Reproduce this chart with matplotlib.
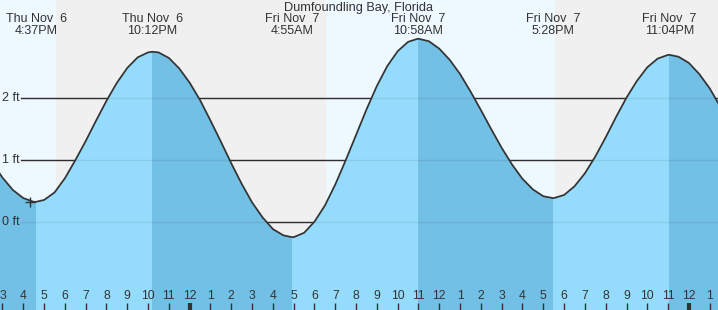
import numpy as np
import matplotlib
matplotlib.use("Agg")
import matplotlib.pyplot as plt
from matplotlib.patches import PathPatch

plt.rcParams['font.family'] = ['Liberation Sans', 'DejaVu Sans']

# ---------------- data ----------------
title = "Dumfoundling Bay, Florida"
# hours since Thu Nov 6 00:00, half-hour readings
hour_start, hour_step = 14.5, 0.5
heights = [0.97, 0.72, 0.52, 0.39, 0.33, 0.36, 0.48, 0.71, 1.00, 1.31,
           1.64, 1.96, 2.25, 2.49, 2.66, 2.74, 2.74, 2.65, 2.48, 2.25,
           1.97, 1.64, 1.30, 0.95, 0.62, 0.32, 0.08, -0.11, -0.21, -0.24,
           -0.17, 0.01, 0.27, 0.61, 1.00, 1.41, 1.82, 2.20, 2.52, 2.76,
           2.91, 2.96, 2.92, 2.80, 2.62, 2.39, 2.11, 1.81, 1.50, 1.20,
           0.93, 0.70, 0.53, 0.42, 0.39, 0.44, 0.58, 0.79, 1.06, 1.37,
           1.70, 2.01, 2.28, 2.50, 2.64, 2.70, 2.67, 2.57, 2.39, 2.16, 1.87]

extreme_hours = [16.617, 22.2, 28.917, 34.967, 41.467, 47.067]
extreme_heights = [0.33, 2.75, -0.24, 2.96, 0.39, 2.70]
extreme_kinds = ['low', 'high', 'low', 'high', 'low', 'high']
extreme_dates = ["Thu Nov  6", "Thu Nov  6", "Fri Nov  7", "Fri Nov  7", "Fri Nov  7", "Fri Nov  7"]
extreme_times = ["4:37PM", "10:12PM", "4:55AM", "10:58AM", "5:28PM", "11:04PM"]

night_spans = [(17.57, 30.55), (41.55, 60.0)]
grid_levels = [0, 1, 2]
grid_labels = ["0 ft", "1 ft", "2 ft"]
tick_hours = list(range(15, 50))
tick_labels = [str((h - 1) % 12 + 1) for h in tick_hours]
midnight_hours = [24, 48]
now_hour, now_height = 16.32, 0.33

# merge half-hour readings with the extreme readings
hours = hour_start + hour_step * np.arange(len(heights))
all_h = np.concatenate([hours, extreme_hours])
all_v = np.concatenate([heights, extreme_heights])
order = np.argsort(all_h, kind='stable')
curve_x, curve_y = all_h[order], all_v[order]

# ---------------- style ----------------
W, H = 718, 310
day_col = '#eef8ff'
night_col = '#f0f0f0'
rise_col = '#95dcfc'
fall_col = '#72c0e5'
ink = '#333333'
x_lo, x_hi = 14.880, 49.399
y_lo, y_hi = -1.415, 3.585

fig = plt.figure(figsize=(W / 100, H / 100), dpi=100)
fig.patch.set_facecolor(day_col)
ax = fig.add_axes([0, 0, 1, 1])
ax.set_xlim(x_lo, x_hi)
ax.set_ylim(y_lo, y_hi)
ax.axis('off')

for a, b in night_spans:
    ax.axvspan(a, b, color=night_col, lw=0, zorder=0)

line_start = 20.7 / W
for lvl, lab in zip(grid_levels, grid_labels):
    ax.axhline(lvl, xmin=line_start, xmax=1, color=ink, lw=1.0, zorder=1)
    ax.text(2.5 / W, lvl, lab, transform=ax.get_yaxis_transform(),
            ha='left', va='center', fontsize=9, color=ink, zorder=6)

# water polygon used as a clip path
poly = ax.fill_between(curve_x, curve_y, y_lo - 1, color='none', lw=0)
path = poly.get_paths()[0]
clip = PathPatch(path, transform=ax.transData, fc='none', ec='none')
ax.add_patch(clip)

bounds = [x_lo - 1] + extreme_hours + [x_hi + 1]
cols = [fall_col if k == 'low' else rise_col for k in extreme_kinds]
cols = cols + [fall_col if extreme_kinds[-1] == 'high' else rise_col]
for i in range(len(bounds) - 1):
    span = ax.axvspan(bounds[i], bounds[i + 1], color=cols[i], lw=0, zorder=2)
    span.set_clip_path(clip)

for lvl in grid_levels:
    ax.axhline(lvl, xmin=line_start, xmax=1, color='#000000', alpha=0.08, lw=1.0, zorder=3)

ax.plot(curve_x, curve_y, color=ink, lw=1.25, zorder=4,
        solid_joinstyle='round', solid_capstyle='round')
ax.plot([now_hour], [now_height], marker='+', ms=7, mew=1.0, color=ink, zorder=5)

# title & extreme labels
fig.text(0.5, 1 - 7.5 / H, title, ha='center', va='center', fontsize=9.2, color=ink)
for t, d, tm in zip(extreme_hours, extreme_dates, extreme_times):
    ax.text(t, 1 - 19.5 / H, d, transform=ax.get_xaxis_transform(),
            ha='center', va='center', fontsize=9, color=ink, zorder=6)
    ax.text(t, 1 - 31.5 / H, tm, transform=ax.get_xaxis_transform(),
            ha='center', va='center', fontsize=9, color=ink, zorder=6)

# hour ticks
xt = ax.get_xaxis_transform()
for h, lab in zip(tick_hours, tick_labels):
    lw = 3.0 if h in midnight_hours else 1.0
    ax.vlines(h, 0, 7.5 / H, transform=xt, color=ink, lw=lw, zorder=6)
    ax.text(h, 14 / H, lab, transform=xt, ha='center', va='center',
            fontsize=8.7, color=ink, zorder=6)

fig.savefig('out.png', dpi=100, facecolor=fig.get_facecolor())
